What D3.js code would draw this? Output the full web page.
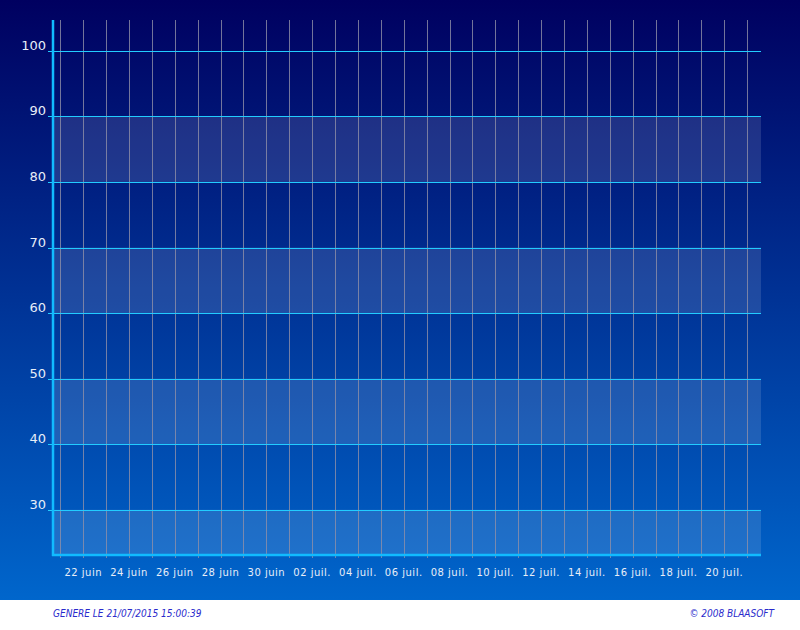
<!DOCTYPE html>
<html><head><meta charset="utf-8">
<script src="https://cdn.jsdelivr.net/npm/d3@7"></script>
<style>html,body{margin:0;padding:0;background:#fff;}svg{display:block;}</style>
</head><body>
<script>
// Data
const yDomain = [23.1, 104.7];
const yTicks = [30, 40, 50, 60, 70, 80, 90, 100];
const bands = [[23.1, 30], [40, 50], [60, 70], [80, 90]];
const xDomain = [new Date(2015, 5, 20, 16, 20), new Date(2015, 6, 21, 14, 30)];
const dayLines = d3.timeDay.range(new Date(2015, 5, 21), new Date(2015, 6, 22));
const labelDays = d3.timeDay.range(new Date(2015, 5, 22), new Date(2015, 6, 21), 2);
const footerLeft = "GENERE LE 21/07/2015 15:00:39";
const footerRight = "© 2008 BLAASOFT";
const monthNames = ["janv.", "févr.", "mars", "avr.", "mai", "juin", "juil.", "août", "sept.", "oct.", "nov.", "déc."];

const W = 800, H = 630;
const svg = d3.select("body").append("svg").attr("width", W).attr("height", H);
const defs = svg.append("defs");
const g = defs.append("linearGradient").attr("id", "bg").attr("x1", 0).attr("y1", 0).attr("x2", 0).attr("y2", 1);
g.append("stop").attr("offset", 0).attr("stop-color", "#000060");
g.append("stop").attr("offset", 1).attr("stop-color", "#0066cc");
svg.append("rect").attr("width", W).attr("height", 600).attr("fill", "url(#bg)");
svg.append("rect").attr("y", 600).attr("width", W).attr("height", 30).attr("fill", "#ffffff");

const pLeft = 53, pRight = 761, pTop = 20, pBottom = 555;
const x = d3.scaleTime().domain(xDomain).range([pLeft, pRight]);
const y = d3.scaleLinear().domain(yDomain).range([pBottom, pTop]);

// bands
svg.append("g").selectAll("rect").data(bands).join("rect")
  .attr("x", pLeft).attr("width", pRight - pLeft)
  .attr("y", d => y(d[1])).attr("height", d => y(d[0]) - y(d[1]))
  .attr("fill", "rgba(255,255,255,0.12)");

// vertical grid lines
svg.append("g").selectAll("line").data(dayLines).join("line")
  .attr("x1", d => Math.round(x(d)) + 0.5).attr("x2", d => Math.round(x(d)) + 0.5)
  .attr("y1", pTop).attr("y2", pBottom + 3)
  .attr("stroke", "#9090a8").attr("stroke-opacity", 0.8).attr("stroke-width", 1);

// horizontal grid lines
svg.append("g").selectAll("line").data(yTicks).join("line")
  .attr("x1", pLeft - 5).attr("x2", pRight)
  .attr("y1", d => Math.round(y(d)) + 0.5).attr("y2", d => Math.round(y(d)) + 0.5)
  .attr("stroke", "#22ccff").attr("stroke-width", 1);

// y labels
svg.append("g").selectAll("text").data(yTicks).join("text")
  .attr("x", 46).attr("y", d => y(d) - 1)
  .attr("text-anchor", "end")
  .attr("font-family", "DejaVu Sans, sans-serif").attr("font-size", 13)
  .attr("fill", "#e8eef8")
  .text(d => d);

// x labels
svg.append("g").selectAll("text").data(labelDays).join("text")
  .attr("x", d => x(d)).attr("y", 576)
  .attr("text-anchor", "middle")
  .attr("font-family", "DejaVu Sans, sans-serif").attr("font-size", 10)
  .attr("letter-spacing", "0.5px")
  .attr("fill", "#e8eef8")
  .text(d => d3.timeFormat("%d")(d) + " " + monthNames[d.getMonth()]);

// axes lines
svg.append("line").attr("x1", pLeft).attr("x2", pLeft).attr("y1", pTop).attr("y2", pBottom + 1)
  .attr("stroke", "#11bbff").attr("stroke-width", 2.5);
svg.append("line").attr("x1", pLeft - 1).attr("x2", pRight).attr("y1", pBottom).attr("y2", pBottom)
  .attr("stroke", "#11bbff").attr("stroke-width", 2.5);

// footer
svg.append("text").attr("x", 53).attr("y", 617)
  .attr("font-family", "DejaVu Sans Condensed, sans-serif").attr("font-style", "italic")
  .attr("font-size", 10).attr("fill", "#2a2acc").text(footerLeft);
svg.append("text").attr("x", 774).attr("y", 617).attr("text-anchor", "end")
  .attr("font-family", "DejaVu Sans Condensed, sans-serif").attr("font-style", "italic")
  .attr("font-size", 10).attr("fill", "#2a2acc").text(footerRight);
</script>
</body></html>
